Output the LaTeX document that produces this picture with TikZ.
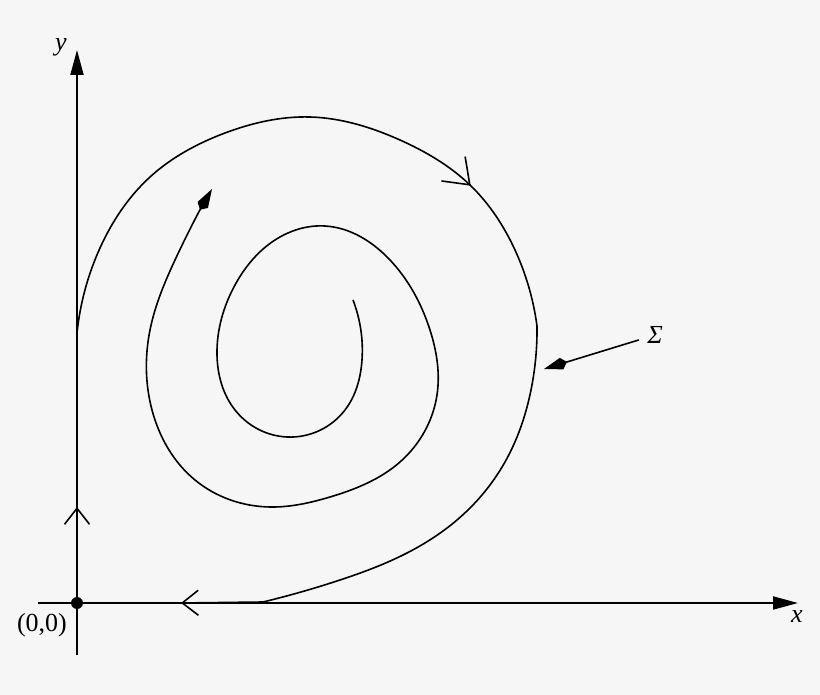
\documentclass[tikz,border=0pt]{standalone}
\usepackage{fontspec}
\setmainfont{Liberation Serif}
\usetikzlibrary{arrows.meta, decorations.markings, hobby}
\definecolor{paper}{RGB}{246,246,246}
\tikzset{
  axisline/.style={
    line width=1pt, -{Triangle[length=12.5pt, width=6.5pt]}
  },
  flowchevron/.style={
    line width=0.8pt, -{Straight Barb[length=8pt, width=12.5pt]}
  },
  orbit/.style={
    line width=0.8pt, line join=round, use Hobby shortcut
  },
  kitearrow/.style={
    line width=0.8pt, -{Kite[length=12pt, width=6pt, inset=2.8pt]}
  },
  axislabel/.style={
    font=\fontsize{13}{15}\selectfont, inner sep=1pt
  }
}

\begin{document}
\begin{tikzpicture}[x=0.5pt, y=-0.5pt]
  \fill[paper] (0,0) rectangle (820,695);
  \useasboundingbox (0,0) rectangle (820,695);

  % axes
  \coordinate (ybottom) at (77,655);
  \coordinate (ytip) at (77,50);
  \coordinate (xleft) at (38,603);
  \coordinate (xtip) at (798,603);
  \coordinate (ychev) at (77,507);
  \coordinate (xchev) at (181,603);
  \coordinate (landing) at (263,602);
  \coordinate (takeoff) at (77,333);
  \coordinate (kink) at (537,326);

  \draw[axisline] (xleft) -- (xtip);
  \draw[axisline] (ybottom) -- (ytip);
  \node[circle, fill, inner sep=0pt, minimum size=6pt] (origin) at (77,603) {};
  \draw[flowchevron] (origin) -- (ychev);
  \draw[flowchevron] (landing) -- (xchev);

  \node[axislabel] (ylabel) at (61,47) {\textit{y}};
  \node[axislabel] (xlabel) at (797,617) {\textit{x}};
  \node[axislabel] (originlabel) at (42,625) {(0,0)};

  % outer orbit, leaving the y-axis and landing on the x-axis
  \draw[orbit, postaction={decorate}, decoration={markings,
      mark=at position 0.77 with {\arrow{Straight Barb[length=11.5pt, width=17pt]}}}]
    (takeoff) .. (100,248) .. (150,177) .. (225,133) .. (310,117) .. (400,140)
      .. (470,185) .. (515,250) .. (kink);
  \draw[orbit] (kink) .. (531,390) .. (505,462) .. (457,520) .. (407,553)
      .. (340,580) .. (landing);

  % inner spiral
  \coordinate (spiralend) at (212,189);
  \draw[orbit, kitearrow] (353,300) .. (362,360) .. (345,410) .. (287,437)
      .. (235,410) .. (217,355) .. (235,285) .. (275,240) .. (325,226)
      .. (390,260) .. (430,330) .. (437,395) .. (400,462) .. (330,497)
      .. (270,507) .. (195,480) .. (152,410) .. (150,330) .. (175,260)
      .. (spiralend);

  % section
  \node[axislabel, inner sep=4pt] (sigma) at (655,335) {\textit{Σ}};
  \coordinate (sigmatip) at (544,369);
  \draw[kitearrow] (sigma) -- (sigmatip);
\end{tikzpicture}
\end{document}
